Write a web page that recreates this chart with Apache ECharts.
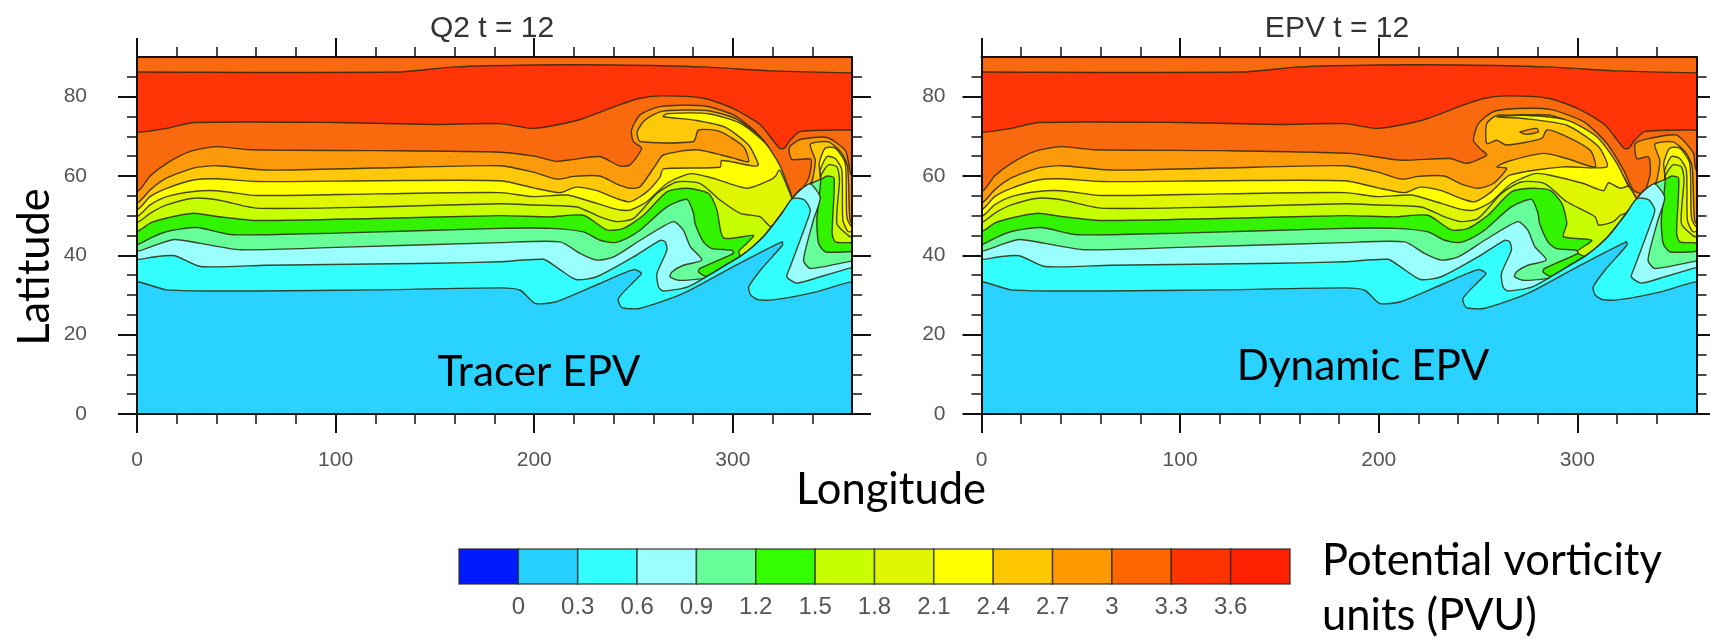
<!DOCTYPE html>
<html><head><meta charset="utf-8">
<script src="https://cdn.jsdelivr.net/npm/echarts@6/dist/echarts.min.js"></script>
<style>html,body{margin:0;padding:0;background:#fff}#c{width:1710px;height:639px}</style></head>
<body><div id="c"></div>
<script>
// Contour lines, as [longitude, latitude], west to east.
const cTop=[[0,86.2],[130,86.2],[160,87.5],[200,88],[240,88],[285,87.5],[320,86.5],[360,86]];
const c33=[[0,71],[15,72],[29,73.5],[100,73.5],[150,73],[182.8,73.2],[199.6,72],[221.4,74],[243.2,78],[253.3,79.6],[265,80.2],[285.2,79.6],[300.3,77],[313.8,72.9],[323.5,67],[326,67],[328.5,68.8],[333.9,71.2],[358.3,71.6],[360,71.5]];
const c30L=[[0,56],[6.6,60],[15,63.2],[26.8,66.2],[40,67.4],[57,66.6],[120,66.4],[183,66],[200,65],[211,63.7],[220,64.2],[233,64.9],[243.2,62.5],[248.2,62.8],[254.1,67],[249.9,68.7],[249,71.6],[253.3,75.4],[263.4,77.5],[285.2,77.7],[300.3,75.4],[312.1,70.8],[320.5,64.9],[326.4,57.8],[330,54.6],[333,55.5],[338.1,59.4],[339.3,64.2],[329.7,64.2],[328.5,67.2],[333.9,69.2],[347.4,69.7],[356.6,66.5],[358.3,63.2],[360,60]];
const c30R=[[0,56],[6.6,60],[15,63.2],[26.8,66.2],[40,67.4],[57,66.6],[120,66.4],[185.5,65.7],[210.7,64],[235.9,64.4],[244.3,63.2],[254.4,65.3],[251,66.9],[247.7,69],[250.2,73.2],[257.7,76.2],[269.5,77],[286.3,76.8],[303.1,73.7],[314.9,68.2],[323.3,61.5],[328.3,56.4],[333.3,55.6],[336.7,60.6],[335.9,64.8],[330,64.4],[329.2,68.2],[336.7,69.5],[350,70.3],[358.5,65.7],[360,61.5]];
const c27L=[[0,53.2],[6.6,56.5],[15,59.5],[28.4,62],[40.2,62.6],[65,61.5],[120,62],[183,62.6],[200,60.9],[211.6,59.2],[220,59.9],[233,60],[241,58.1],[248.2,56.9],[253.3,57.3],[260.8,62.5],[265,65.3],[281.8,66.6],[300.3,64.5],[307.9,63.6],[305.4,67.4],[293.6,71.2],[282.7,71.6],[280.2,68.7],[253.3,68.7],[251.9,71.2],[255.8,74.1],[264.2,76.3],[286.9,76.5],[302,74.3],[314.6,69.5],[322.2,63.6],[328,56.5],[330,54.3],[334,56.5],[339,58],[340.3,59.5],[341.5,64],[339,68],[348.2,68.6],[354.9,65.7],[357.8,62.3],[358.8,50],[360,48]];
const c27R=[[0,53.2],[6.6,56.5],[15,59.5],[28.4,62],[40.2,62.6],[65,61.5],[120,62],[183,62.6],[200,60.9],[211.6,59.2],[220,59.9],[233,60],[241,58.1],[250.2,56.9],[257.7,58.1],[264.5,61.9],[259.4,62.3],[264.5,63.6],[282.9,65.7],[294.7,64.4],[309,62.3],[306.5,66.5],[293,70.3],[284.6,71.6],[282.1,69.5],[264.5,67.8],[259.4,69],[254.4,68.2],[254.4,73.2],[259.4,75.3],[266.1,75.3],[286.3,75.3],[303,72],[314.9,66.5],[323.3,59.8],[328.3,55.6],[330,54.3],[334,56.5],[339,58],[340.3,59.5],[341.5,64],[339,68],[348.2,68.6],[354.9,65.7],[357.8,62.3],[358.8,50],[360,48]];
const c24L=[[0,51.5],[6.6,54.8],[15,56.9],[28.4,59],[40.2,59.3],[60,58.6],[120,58.8],[183,58.8],[199.6,57],[213,55.8],[221,57.2],[231.5,56.3],[241.6,54.3],[248.3,53.5],[256.7,56],[263.4,59.8],[265,61.8],[293.6,62.2],[294.4,63.9],[310.4,62.5],[312.9,62.8],[307.9,67.8],[296.1,72.3],[281.8,74],[265,75],[266.7,75.7],[287.7,75.7],[303.7,73.3],[316.3,68.3],[323.5,62.8],[329.2,55.7],[330,54.3],[334,56.5],[339,58],[344,59],[343.5,63.2],[346.5,67],[351.6,67],[356.6,63.2],[357.4,49.7],[360,47.2]];
const c24R=[[0,51.5],[6.6,54.8],[15,56.9],[28.4,59],[40.2,59.3],[60,58.6],[120,58.8],[183,58.8],[199.6,57],[213,55.8],[221,57.2],[231.5,56.3],[241.6,54.3],[248.3,53.5],[256.7,56],[266,60.2],[293,62.3],[314.9,62.3],[310.7,67.4],[294.7,72.8],[272.9,74.5],[259.4,74.9],[272.9,75.3],[294.7,74.1],[309.8,69.9],[319.9,63.2],[328.3,54.8],[330,54.3],[334,56.5],[339,58],[344,59],[343.5,63.2],[346.5,67],[351.6,67],[356.6,63.2],[357.4,49.7],[360,47.2]];
const c21L=[[0,49.8],[6.6,52.7],[15,54.8],[28.4,56.1],[40.2,56.3],[60,55.1],[120,55.5],[183,55.8],[199.6,54.8],[216.4,55.2],[231.5,53.1],[241.6,51.6],[248.3,51.4],[256.7,53.5],[266.8,58.1],[278.6,60.6],[290.3,59.4],[307.1,56.9],[318.9,59],[321.5,60],[323.5,61.5],[326,59],[329,55.3],[330,54.3],[334,56.5],[339,58],[344,59],[344,61.5],[347.4,64.9],[351.6,64.4],[354.9,61.5],[355.4,48.9],[358,46],[360,46]];
const c21R=[[0,49.8],[6.6,52.7],[15,54.8],[28.4,56.1],[40.2,56.3],[60,55.1],[120,55.5],[183,55.8],[199.6,54.8],[216.4,55.2],[231.5,53.1],[241.6,51.6],[248.3,51.4],[256.7,53.5],[266.8,58.1],[278.6,60.6],[286.3,60.2],[303.1,58.1],[313.2,56.3],[315.7,58.3],[321.6,56.9],[325.8,57.4],[328.3,55.6],[330,54.3],[334,56.5],[339,58],[344,59],[344,61.5],[347.4,64.9],[351.6,64.4],[354.9,61.5],[355.4,48.9],[358,46],[360,46]];
const c18L=[[0,48.3],[6.6,50.6],[15,52.7],[28.4,54.4],[40.2,54],[60,51.9],[120,52.2],[182.8,53],[199.6,52.7],[221.4,52.2],[233.2,49.7],[241.6,48.5],[250,49.3],[261.8,55.6],[271.8,58.5],[283.6,58.1],[293.7,53.9],[303.8,50.6],[313.8,49.7],[317.2,48],[319,47.2],[320.5,47.8],[325,50.8],[330,54.3],[334,56.5],[339,58],[344,59],[344.5,60.3],[348.2,62.8],[352.4,62.3],[353.7,59],[352.4,48],[358.3,44.9],[360,44.7]];
const c18R=[[0,48.3],[6.6,50.6],[15,52.7],[28.4,54.4],[40.2,54],[60,51.9],[120,52.2],[182.8,53],[199.6,52.7],[221.4,52.2],[233.2,49.7],[241.6,48.5],[250,49.3],[261.8,55.6],[271.8,58.5],[283.6,58.1],[294.7,53.5],[309,49.7],[310.7,47.6],[318.2,48.5],[321.6,50.1],[325,50.8],[330,54.3],[334,56.5],[339,58],[344,59],[344.5,60.3],[348.2,62.8],[352.4,62.3],[353.7,59],[352.4,48],[358.3,44.9],[360,44.7]];
const c15L=[[0,46],[6.6,48.1],[15,49.4],[28.4,50.6],[40.2,49.8],[60,48.8],[120,49.3],[182.8,50],[208,49.7],[224.8,50.1],[236.6,46.4],[245,46.8],[255,50.1],[266.8,56],[276.9,56.9],[287.8,55.6],[292,51.4],[295.3,44.4],[310.4,45],[307,43],[303,41],[304,39.8],[310.4,42.3],[316,45],[320.5,47.8],[325,50.8],[330,54.3],[334,56.5],[339,58],[344,59],[347.4,60],[351,59.5],[350,45.5],[351.6,43.4],[358.3,43.2],[360,43.1]];
const c15R=[[0,46],[6.6,48.1],[15,49.4],[28.4,50.6],[40.2,49.8],[60,48.8],[120,49.3],[182.8,50],[208,49.7],[224.8,50.1],[236.6,46.4],[245,46.8],[255,50.1],[266.8,56],[276.9,56.9],[286.3,56.4],[292.2,53.1],[294.7,48],[293,44.7],[307.3,43.8],[299.7,40.9],[304,39.8],[310.4,42.3],[316,45],[320.5,47.8],[325,50.8],[330,54.3],[334,56.5],[339,58],[344,59],[347.4,60],[351,59.5],[350,45.5],[351.6,43.4],[358.3,43.2],[360,43.1]];
const c12=[[0,42.7],[6.6,44.3],[15,46],[30,47],[48,45.2],[100,45.6],[182.8,46.8],[208,46.8],[224.8,45.9],[233.2,43.8],[239.9,43.2],[246.6,44.3],[253.4,46.4],[266.8,52.2],[276.9,54.1],[280.2,50.6],[281,48],[285.2,43.4],[289.4,41.7],[299.5,41.3],[300.3,40.5],[283.5,36.7],[282.7,35.8],[287,34.7],[297,37.7],[304,39.8],[310.4,42.3],[316,45],[320.5,47.8],[325,50.8],[330,54.3],[334,56.5],[339,58],[344,59],[344,57.3],[342.3,48.9],[343.2,43],[346.5,40.9],[358.3,40.9],[360,41]];
const c09=[[0,41],[10,42.7],[19,44],[32,43],[52,41.4],[100,42],[182.8,43.2],[213,43.4],[223,40.5],[231.5,38.8],[240,39.6],[253.4,43.8],[270,48.5],[275,46.4],[278.6,42.2],[284.4,38.8],[275.1,37.5],[269.3,35.8],[268.4,34.6],[272.6,33.7],[285.2,34.2],[287,34.7],[297,37.7],[304,39.8],[310.4,42.3],[316,45],[320.5,47.8],[325,50.8],[330,54.3],[334,56.5],[339,58],[344,54.6],[340.6,48.9],[335.6,38.8],[339,36.7],[358.3,38.4],[360,38.6]];
const c06=[[0,38.9],[10,39.7],[19,39.9],[32,37.2],[65,37.5],[150,38],[182.8,38.4],[204.6,39],[211,37.1],[221,33.9],[231.5,34.6],[250,39.6],[263.4,43.8],[266,43.4],[266.8,41.3],[261.8,35.4],[262.6,32],[265,31],[277,32],[287,34.7],[297,37.7],[304,39.8],[310.4,42.3],[316,45],[320.5,47.8],[325,50.8],[330,54.3],[336,54],[339,51.5],[337.6,48.9],[328.9,37.1],[327.2,34.6],[332.2,33],[344,34.6],[358.3,36.7],[360,36.9]];
const c03=[[0,33.4],[15,31.3],[60,31],[120,31.3],[182.8,31.8],[193,31.2],[200.4,27.9],[211,28.3],[233,32.9],[250,36.4],[254,35.4],[250,33.3],[242.4,29.1],[244,26.9],[253,26.6],[275,30.4],[300,37.1],[324.7,43.4],[325,42.6],[314,36.3],[308,32],[309,30],[313,28.8],[322,28.9],[342,30.8],[360,33.3]];
const islandR=[[271.2,71.1],[279.6,72],[280.4,71.1],[274.5,70.5]];

const levels=[0,0.3,0.6,0.9,1.2,1.5,1.8,2.1,2.4,2.7,3,3.3,3.6];
const barColors=['#0019ff','#26d0ff','#33ffff','#99ffff','#66ff99','#33ff00','#c8ff00','#e0f500','#ffff00','#ffc800','#ff9900','#ff6600','#ff3300','#ff2000'];
const xMajor=[0,100,200,300];
const xMinor=[20,40,60,80,120,140,160,180,220,240,260,280,320,340];
const yMajor=[0,20,40,60,80];
const yMinor=[5,10,15,25,30,35,45,50,55,65,70,75,85];
const titles=['Q2 t = 12','EPV t = 12'];

const FOOT=-20, HEAD=110, W=-20, E=380;
const south=l=>[...l,[E,l[l.length-1][1]],[E,FOOT],[W,FOOT],[W,l[0][1]]];
const north=l=>[...l,[E,l[l.length-1][1]],[E,HEAD],[W,HEAD],[W,l[0][1]]];
const lineCol='rgba(45,40,10,0.85)';
function layers(c30,c27,extra,c24,c21,c18,c15){return [
 ['#ff3508',[[W,FOOT],[E,FOOT],[E,HEAD],[W,HEAD]]],
 ['#f96a0f',south(c33)],['#fd9a0c',south(c30)],['#ffc808',south(c27)],...extra,['#ffff00',south(c24)],
 ['#e0f500',south(c21)],['#c8ff00',south(c18)],['#33f400',south(c15)],['#66ff99',south(c12)],
 ['#99ffff',south(c09)],['#33ffff',south(c06)],['#2ad2ff',south(c03)],['#f96a0f',north(cTop)]];}
const panels=[layers(c30L,c27L,[],c24L,c21L,c18L,c15L),layers(c30R,c27R,[['#fd9a0c',islandR]],c24R,c21R,c18R,c15R)];

const grids=[{left:137,top:57,width:715,height:357},{left:981.5,top:57,width:715,height:357},{left:459,top:549,width:831,height:35}];
const font='"Liberation Sans",Arial,sans-serif';
const xAxes=[],yAxes=[],series=[];
const axis=(g,pos,range,step,vals,len,w,line)=>({gridIndex:g,type:'value',position:pos,min:0,max:range,interval:step,z:5,
  splitLine:{show:false},axisLabel:{show:false},
  axisLine:{show:line,onZero:false,lineStyle:{color:'#16100a',width:2}},
  axisTick:{show:true,customValues:vals,length:len,lineStyle:{color:'#111',width:w}}});
[0,1].forEach(g=>{
 const bx=axis(g,'bottom',360,100,xMajor,19,2,true);
 bx.axisLabel={show:true,customValues:xMajor,margin:36,fontSize:21,color:'#555',fontFamily:font};
 const ly=axis(g,'left',90,20,yMajor,19,2,true);
 ly.axisLabel={show:true,customValues:yMajor,margin:g?36:50,fontSize:21,color:'#555',fontFamily:font};
 xAxes.push(bx,axis(g,'top',360,100,xMajor,19,2,true),axis(g,'bottom',360,100,xMinor,10,1.5,false),axis(g,'top',360,100,xMinor,10,1.5,false));
 yAxes.push(ly,axis(g,'right',90,20,yMajor,19,2,true),axis(g,'left',90,20,yMinor,10,1.5,false),axis(g,'right',90,20,yMinor,10,1.5,false));
 const ls=panels[g];
 series.push({type:'custom',xAxisIndex:g*4,yAxisIndex:g*4,clip:true,silent:true,
   data:ls.map((_,i)=>[i]),
   renderItem:(p,api)=>{const l=ls[p.dataIndex];
     return {type:'polygon',shape:{points:l[1].map(q=>api.coord(q)),smooth:p.dataIndex?0.22:0},
       style:{fill:l[0],stroke:p.dataIndex?lineCol:'none',lineWidth:1.4}};}});
});
xAxes.push({gridIndex:2,type:'value',min:-0.3,max:3.9,interval:0.3,splitLine:{show:false},axisLine:{show:false},axisTick:{show:false},
 axisLabel:{margin:11,fontSize:24,color:'#555',fontFamily:font,customValues:levels,
  formatter:v=>String(+(+v).toFixed(1))}});
yAxes.push({gridIndex:2,type:'value',min:0,max:1,show:false});
const barStops=[-0.3,...levels,3.9];
series.push({type:'custom',xAxisIndex:8,yAxisIndex:8,silent:true,clip:false,
 data:barColors.map((_,i)=>[barStops[i],barStops[i+1]]),
 renderItem:(p,api)=>{const a=api.coord([api.value(0),1]),b=api.coord([api.value(1),0]);
  return {type:'rect',shape:{x:a[0],y:a[1],width:b[0]-a[0],height:b[1]-a[1]},
   style:{fill:barColors[p.dataIndex],stroke:'rgba(40,40,30,0.75)',lineWidth:1.5}};}});

const big='Lato,"Open Sans",sans-serif';
const t=(x,y,text,fs,extra)=>({type:'text',x,y,z:10,style:{text,fontSize:fs,fill:'#000',fontFamily:big,align:'center',verticalAlign:'middle',...extra}});
const graphic=[
 t(492,29,titles[0],30,{fill:'#333',fontFamily:font}),
 t(1337,29,titles[1],30,{fill:'#333',fontFamily:font}),
 t(539,372,'Tracer EPV',42.3),
 t(1363,366,'Dynamic EPV',42.3),
 t(891,490,'Longitude',43.5),
 {type:'text',x:35,y:267,z:10,rotation:Math.PI/2,style:{text:'Latitude',fontSize:43.5,fill:'#000',fontFamily:big,align:'center',verticalAlign:'middle'}},
 t(1322,561,'Potential vorticity',43.5,{align:'left'}),
 t(1322,616,'units (PVU)',43.5,{align:'left'})
];
const chart=echarts.init(document.getElementById('c'),null,{renderer:'canvas'});
chart.setOption({animation:false,backgroundColor:'#fff',grid:grids,xAxis:xAxes,yAxis:yAxes,series,graphic});
</script></body></html>
